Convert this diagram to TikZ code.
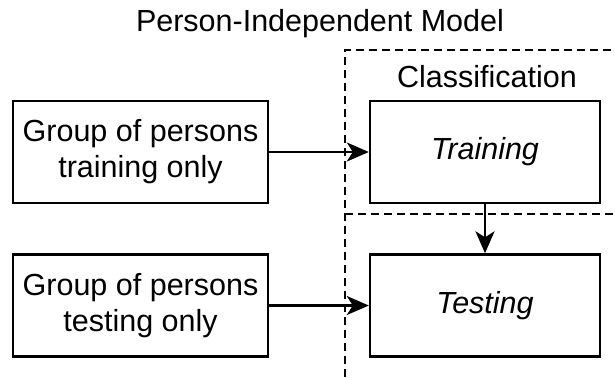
\documentclass[tikz,border=0pt]{standalone}
\usepackage{fontspec}
\setmainfont{Liberation Sans}
\usetikzlibrary{arrows.meta}
\begin{document}
\begin{tikzpicture}[x=1bp,y=-1bp,
  box/.style={draw, line width=2.4bp, minimum width=#1, minimum height=102bp, inner sep=0pt, align=center, font=\fontsize{30.5bp}{36bp}\selectfont},
  box/.default=255bp,
  lbl/.style={inner sep=0pt, font=\fontsize{30.5bp}{36bp}\selectfont},
  sep/.style={line width=2.4bp, dash pattern=on 8bp off 5bp},
  flow/.style={line width=2.4bp, -{Stealth[length=22bp, width=19bp, inset=6bp]}}]
\useasboundingbox (0,0) rectangle (615,377);
% dashed frame of the classification stage
\coordinate (vt) at (345,50);
\coordinate (vb) at (345,377);
\coordinate (ht) at (615,50);
\coordinate (hl) at (345,214);
\coordinate (hr) at (615,214);
\draw[sep] (vb) -- (vt) -- (ht);
\draw[sep] (hl) -- (hr);
% titles
\node[lbl] (title) at (320,24) {Person-Independent Model};
\node[lbl] (cls) at (487,77) {Classification};
% boxes
\node[box] (g1) at (140.5,152) {Group of persons\\training only};
\node[box] (g2) at (140.5,305.5) {Group of persons\\testing only};
\node[box=230bp] (tr) at (485,152) {\itshape Training};
\node[box=230bp] (te) at (485,305.5) {\itshape Testing};
% connectors
\draw[flow] (g1) -- (tr);
\draw[flow] (g2) -- (te);
\draw[flow] (tr) -- (te);
\end{tikzpicture}
\end{document}
